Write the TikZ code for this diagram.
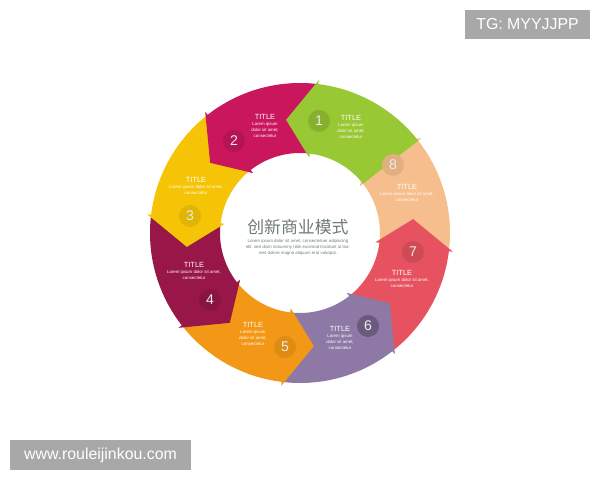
\documentclass[tikz,border=0pt]{standalone}
\usepackage{fontspec}
\setmainfont{Liberation Sans}
\newfontfamily\cjk{Noto Sans CJK SC}
\usetikzlibrary{positioning}
\definecolor{cOne}{RGB}{152,200,52}
\definecolor{cTwo}{RGB}{201,22,92}
\definecolor{cThree}{RGB}{246,196,6}
\definecolor{cFour}{RGB}{152,22,72}
\definecolor{cFive}{RGB}{242,152,22}
\definecolor{cSix}{RGB}{142,120,166}
\definecolor{cSeven}{RGB}{231,82,96}
\definecolor{cEight}{RGB}{246,190,140}
\definecolor{wmgray}{RGB}{168,168,168}
\definecolor{midgray}{RGB}{112,122,122}

\begin{document}
\begin{tikzpicture}[x=0.025cm,y=0.025cm,
	num/.style={circle, minimum size=0.55cm, inner sep=0pt, text=white!92!black, font=\fontsize{10}{10}\selectfont},
	ttl/.style={inner sep=0pt, text=white, font=\fontsize{5.3}{6}\selectfont},
	lorem/.style={inner sep=0pt, text=white, align=center, font=\fontsize{3.1}{4.3}\selectfont},
	wm/.style={fill=wmgray, text=white, inner sep=0pt, font=\fontsize{11.3}{12}\selectfont}]
	\useasboundingbox[fill=white] (-300,-247) rectangle (300,233);

	% ring, from 8 back to 1 so each head lies over the next one
	\fill[cEight] (353:80) arc[start angle=353, end angle=398, radius=80] -- (398:76) -- (412:114) -- (398:154) -- (398:150) arc[start angle=398, end angle=353, radius=150] -- cycle;
	\fill[cSeven] (308:80) arc[start angle=308, end angle=353, radius=80] -- (353:76) -- (367:114) -- (353:154) -- (353:150) arc[start angle=353, end angle=308, radius=150] -- cycle;
	\fill[cSix] (263:80) arc[start angle=263, end angle=308, radius=80] -- (308:76) -- (322:114) -- (308:154) -- (308:150) arc[start angle=308, end angle=263, radius=150] -- cycle;
	\fill[cFive] (218:80) arc[start angle=218, end angle=263, radius=80] -- (263:76) -- (277:114) -- (263:154) -- (263:150) arc[start angle=263, end angle=218, radius=150] -- cycle;
	\fill[cFour] (173:80) arc[start angle=173, end angle=218, radius=80] -- (218:76) -- (232:114) -- (218:154) -- (218:150) arc[start angle=218, end angle=173, radius=150] -- cycle;
	\fill[cThree] (128:80) arc[start angle=128, end angle=173, radius=80] -- (173:76) -- (187:114) -- (173:154) -- (173:150) arc[start angle=173, end angle=128, radius=150] -- cycle;
	\fill[cTwo] (83:80) arc[start angle=83, end angle=128, radius=80] -- (128:76) -- (142:114) -- (128:154) -- (128:150) arc[start angle=128, end angle=83, radius=150] -- cycle;
	\fill[cOne] (38:80) arc[start angle=38, end angle=83, radius=80] -- (83:76) -- (97:114) -- (83:154) -- (83:150) arc[start angle=83, end angle=38, radius=150] -- cycle;

	% numbers
	\node[num, fill=cOne!88!black] at (19,112)(n1){1};
	\node[num, fill=cTwo!90!black] at (-66,92)(n2){2};
	\node[num, fill=cThree!92!black] at (-110,17)(n3){3};
	\node[num, fill=cFour!90!black] at (-90,-67)(n4){4};
	\node[num, fill=cFive!92!black] at (-15,-114)(n5){5};
	\node[num, fill=cSix!75!black] at (68,-93)(n6){6};
	\node[num, fill=cSeven!90!black] at (113,-19)(n7){7};
	\node[num, fill=cEight!92!black] at (93,68)(n8){8};

	% titles
	\node[ttl] at (51,115)(t1){TITLE};
	\node[lorem, below=1.6pt of t1](l1){Lorem ipsum\\dolor sit amet,\\consectetur};
	\node[ttl] at (-35,116)(t2){TITLE};
	\node[lorem, below=1.6pt of t2](l2){Lorem ipsum\\dolor sit amet,\\consectetur};
	\node[ttl] at (-104,53)(t3){TITLE};
	\node[lorem, below=1.6pt of t3](l3){Lorem ipsum dolor sit amet,\\consectetur};
	\node[ttl] at (-106,-32)(t4){TITLE};
	\node[lorem, below=1.6pt of t4](l4){Lorem ipsum dolor sit amet,\\consectetur};
	\node[ttl] at (-47,-92)(t5){TITLE};
	\node[lorem, below=1.6pt of t5](l5){Lorem ipsum\\dolor sit amet,\\consectetur};
	\node[ttl] at (40,-96)(t6){TITLE};
	\node[lorem, below=1.6pt of t6](l6){Lorem ipsum\\dolor sit amet,\\consectetur};
	\node[ttl] at (102,-40)(t7){TITLE};
	\node[lorem, below=1.6pt of t7](l7){Lorem ipsum dolor sit amet,\\consectetur};
	\node[ttl] at (107,46)(t8){TITLE};
	\node[lorem, below=1.6pt of t8](l8){Lorem ipsum dolor sit amet,\\consectetur};

	% middle
	\node[inner sep=0pt, text=midgray, font=\cjk\fontsize{12}{12}\selectfont] at (-2,6)(head){创新商业模式};
	\node[lorem, text=midgray, below=3pt of head](body){Lorem ipsum dolor sit amet, consectetuer adipiscing\\elit, sed diam nonummy nibh euismod tincidunt ut lao-\\reet dolore magna aliquam erat volutpat.};

	% marks on the picture
	\node[wm, minimum width=3.125cm, minimum height=0.725cm] at (227.5,208.5)(tg){TG: MYYJJPP};
	\node[wm, minimum width=4.525cm, minimum height=0.75cm] at (-199.5,-222)(www){www.rouleijinkou.com};
\end{tikzpicture}
\end{document}
